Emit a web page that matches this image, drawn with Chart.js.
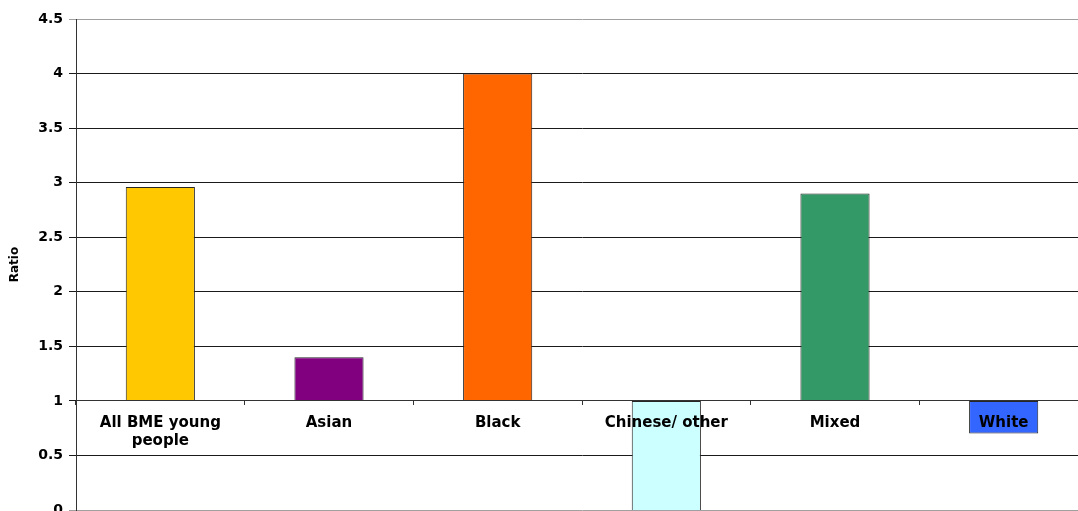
<!DOCTYPE html>
<html>
<head>
<meta charset="utf-8">
<script src="https://cdn.jsdelivr.net/npm/chart.js@4/dist/chart.umd.min.js"></script>
<style>
    html, body { margin: 0; padding: 0; overflow: hidden; background: #fff; }
    #wrap { width: 1078px; height: 511px; overflow: hidden; }
</style>
</head>
<body>
<div id="wrap">
    <canvas id="ratioChart" width="1100" height="530"></canvas>
</div>
<script>
// 各族群比率 (bars start from the axis at 1)
var categories = [['All BME young', 'people'], 'Asian', 'Black', 'Chinese/ other', 'Mixed', 'White'];
var ratios = [2.96, 1.4, 4.0, -0.1, 2.9, 0.7];
var baseline = 1;
var barColors = ['#FFC800', '#800080', '#FF6600', '#CCFFFF', '#339966', '#3366FF'];
var yTicks = [0, 0.5, 1, 1.5, 2, 2.5, 3, 3.5, 4, 4.5];

var tickFont = { family: '"DejaVu Sans", sans-serif', size: 14, weight: 'bold' };
var labelFont = { family: '"DejaVu Sans", sans-serif', size: 15, weight: 'bold', lineHeight: 1.15 };

var chartData = {
    labels: categories,
    datasets: [{
        label: 'Ratio',
        data: ratios.map(v => [baseline, v]),
        backgroundColor: barColors,
        borderColor: '#262626',
        borderWidth: 1,
        borderSkipped: false,
        categoryPercentage: 1,
        barPercentage: 0.41
    }]
};

var chartOption = {
    responsive: false,
    animation: false,
    devicePixelRatio: 1,
    layout: {
        padding: { top: 19, right: 12, bottom: 20, left: 0 }
    },
    plugins: {
        legend: { display: false },
        tooltip: { enabled: false }
    },
    scales: {
        x: {
            position: { y: baseline },
            offset: true,
            grid: {
                offset: true,
                drawOnChartArea: false,
                drawTicks: true,
                tickLength: 4,
                color: '#333333',
                z: 1
            },
            border: { display: true, color: '#333333', width: 1, z: 1 },
            ticks: {
                color: '#000',
                font: labelFont,
                padding: 10,
                maxRotation: 0,
                autoSkip: false,
                z: 1
            }
        },
        y: {
            min: yTicks[0],
            max: yTicks[yTicks.length - 1],
            afterFit: function (scale) { scale.width = 76; },
            afterBuildTicks: function (scale) {
                scale.ticks = yTicks.map(v => ({ value: v }));
            },
            title: {
                display: true,
                text: 'Ratio',
                color: '#000',
                font: { family: '"DejaVu Sans", sans-serif', size: 12, weight: 'bold' },
                padding: { top: 8, bottom: 0 }
            },
            grid: {
                color: function (ctx) {
                    // 上下兩條線為灰色
                    if (ctx.tick && (ctx.tick.value === 4.5 || ctx.tick.value === 0)) return '#a0a0a0';
                    return '#1a1a1a';
                },
                lineWidth: 1,
                tickLength: 7
            },
            border: { display: true, color: '#333333', width: 1 },
            ticks: {
                color: '#000',
                font: tickFont,
                padding: 6,
                callback: function (value) {
                    return String(value);
                }
            }
        }
    }
};

new Chart(document.getElementById('ratioChart'), {
    type: 'bar',
    data: chartData,
    options: chartOption
});
</script>
</body>
</html>
